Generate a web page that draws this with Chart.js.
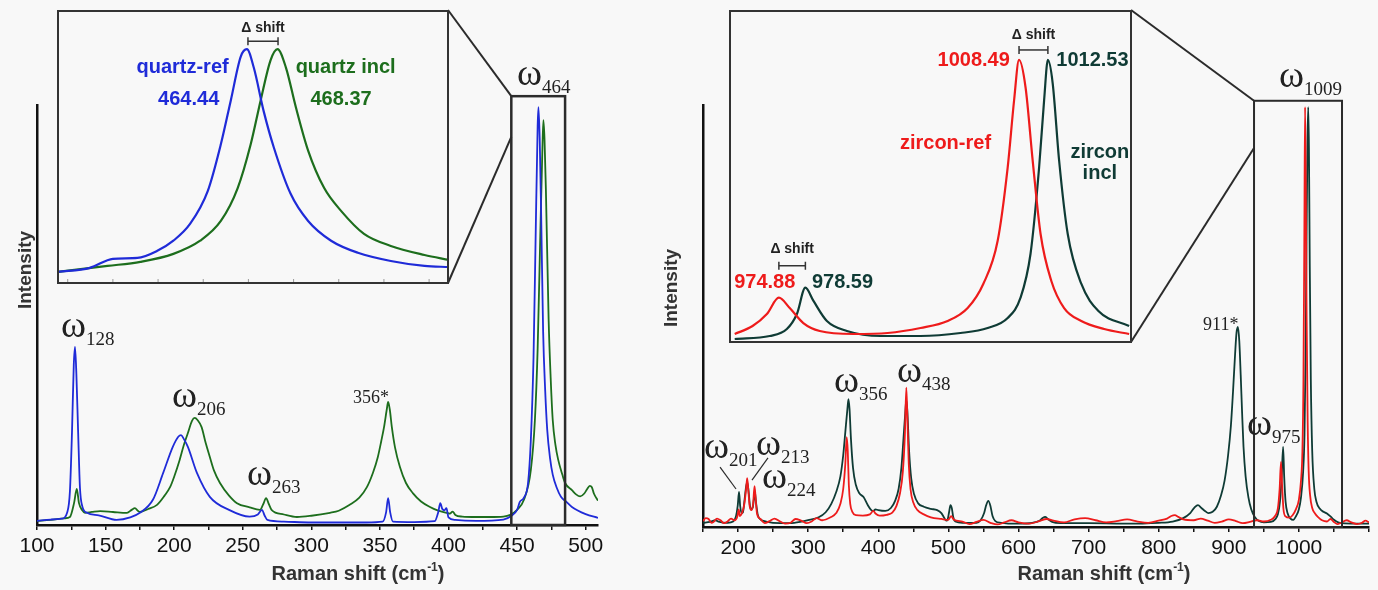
<!DOCTYPE html>
<html>
<head>
<meta charset="utf-8">
<script src="https://cdn.jsdelivr.net/npm/chart.js@4.4.1/dist/chart.umd.min.js"></script>
<style>
    body { margin: 0; background: #f8f8f8; width: 1378px; height: 590px; overflow: hidden; position: relative; }
    canvas { position: absolute; }
</style>
</head>
<body>
<canvas id="qMain" width="650" height="590" style="left:0px;top:0px"></canvas>
<canvas id="zMain" width="728" height="590" style="left:650px;top:0px"></canvas>
<canvas id="qInset" width="392" height="274" style="left:57px;top:10px"></canvas>
<canvas id="zInset" width="403" height="333" style="left:729px;top:10px"></canvas>
<script>
// ---------- data (Raman shift cm-1, intensity a.u.) ----------
const quartzTicks = [100, 125, 150, 175, 200, 225, 250, 275, 300, 325, 350, 375, 400, 425, 450, 475, 500];
const quartzTickLabels = [100, 150, 200, 250, 300, 350, 400, 450, 500];
const zirconTicks = [150, 200, 250, 300, 350, 400, 450, 500, 550, 600, 650, 700, 750, 800, 850, 900, 950, 1000, 1050, 1100];
const zirconTickLabels = [200, 300, 400, 500, 600, 700, 800, 900, 1000];
const quartzInsetTicks = [440.9, 446.8, 452.7, 458.6, 464.5, 470.4, 476.3, 482.2, 488.1];

const quartzRefMain = [
    [100, 1.0], [110, 1.3], [118, 1.5], [122, 3], [124, 8], [125.5, 22], [126.8, 38], [127.7, 42.4], [128.7, 36],
    [130, 22], [131.3, 9], [133, 4.5], [136.4, 2.9], [145, 2.3], [158, 1.2], [168, 1.8], [175, 2.9], [184.5, 6],
    [192, 12.4], [199, 18.6], [203, 21], [205, 21.4], [207, 20.5], [210, 18.6], [216.6, 12.4], [226, 6.7],
    [240, 3.6], [255, 2], [261, 2.5], [264, 3.6], [266, 2.2], [268, 1.2], [280, 0.8], [300, 0.6], [340, 0.6],
    [352, 0.8], [354.5, 3], [356, 6.4], [357.5, 3], [359.5, 0.8], [375, 0.7], [390, 0.9], [392.5, 3], [394, 5.2],
    [395.5, 3.8], [397, 3.5], [398.5, 4], [400, 1.8], [405, 1.2], [420, 1], [440, 1.3], [446, 2.2], [450, 3.6],
    [452, 5.5], [455, 6.5], [458, 10], [460, 20], [462, 40], [463.5, 68], [465, 95], [465.6, 99.5], [466.5, 92],
    [467.5, 75], [469, 46], [470.5, 32], [472, 22.6], [474, 16], [476, 12], [479, 8.8], [482, 6.7], [486, 5.5],
    [490, 4.3], [500, 2.6], [509, 1.7]
];
const quartzInclMain = [
    [100, 1.0], [110, 1.2], [120, 1.6], [124, 1.9], [127, 5.2], [129, 8.6], [130.6, 5.2], [133, 3.5], [135, 2.9],
    [140, 3.1], [146, 3.3], [155.4, 3.1], [165.6, 2.9], [169, 3.6], [171.4, 4], [173.5, 3.4], [175, 3.1], [181, 3.8],
    [187.5, 4.8], [193, 7], [197, 9], [200, 11.5], [204, 15.5], [207, 19], [210, 21.9], [213, 24.8], [215, 25.5],
    [217, 25], [220, 23.3], [223, 19.5], [226, 16.2], [229, 13], [233.4, 10], [240, 7], [245.8, 5.2], [255, 4.2],
    [262.5, 3.6], [265, 5], [267, 6.4], [269, 5], [271, 3.6], [280, 2.5], [289.5, 1.9], [300, 2.2], [313.6, 2.9],
    [320, 3.4], [328, 4.8], [335, 6.5], [340.5, 9], [345, 12.5], [348.5, 16.2], [351, 20], [353, 23.3], [355, 27.5],
    [356, 29.3], [357.2, 27.5], [358.7, 23.3], [361, 18.5], [364.6, 13.8], [369, 10], [374, 7.6], [380, 5.6],
    [386.5, 4.3], [392, 3.5], [398.8, 2.9], [401, 2.7], [403, 3.2], [405, 2.4], [410, 2.0], [420, 1.9], [430, 1.9],
    [440, 2.0], [445, 2.4], [450, 3.6], [455, 6], [460, 13], [463, 25], [465, 42], [467, 70], [468.5, 90],
    [469.2, 96.4], [470, 92], [471, 80], [473, 49], [474.5, 35], [476, 25], [478, 19], [480, 15.5], [483, 12],
    [485, 10], [490, 8.3], [493, 7.3], [496, 6.8], [499, 7.5], [501, 8.5], [503, 9.3], [504.5, 9], [506, 7.5], [509, 5.8]
];
const quartzRefInset = [
    [439.6, 4.4], [443.8, 5.9], [446.8, 9.2], [450, 9.5], [452.6, 12.1], [454.7, 15.8], [456.9, 22], [459.2, 34],
    [460.9, 51], [462.2, 67], [463.5, 83], [464.3, 85.7], [465.2, 79], [466.5, 63], [467.8, 50], [470, 33],
    [472.3, 23], [475.3, 15.8], [478.8, 11.4], [483.1, 8.4], [487.5, 6.6], [490.7, 6.2]
];
const quartzInclInset = [
    [439.6, 4.4], [446.1, 6.6], [450.4, 8.1], [454.7, 11], [458.2, 15.8], [460.9, 23], [463.1, 35], [464.8, 51],
    [466.1, 67], [467.4, 81.7], [468.3, 85.7], [469.4, 79], [470.7, 64.5], [472.3, 48.7], [474.4, 35], [476.6, 26.7],
    [479.6, 18.3], [483.1, 13.9], [487.5, 10.6], [490.7, 8.8]
];

const zirconRefMain = [
    [150, 1.4], [154, 2.1], [158, 1.9], [162, 1.0], [165, 1.2], [170, 2.0], [175, 1.6], [180, 0.9], [185, 1.3],
    [190, 2.0], [195, 1.6], [199, 2.5], [201, 4.2], [202.5, 2.6],
    [206, 3.5], [209, 5.5], [211.5, 9], [213, 11.6], [214.5, 9], [216.5, 5], [219, 4], [221.5, 5.5], [223.5, 9.7],
    [225, 7], [227, 3.2], [232, 1.9], [238, 0.9], [245, 1.4], [252, 2.0], [260, 1.3], [267, 0.8], [275, 1.0],
    [282, 1.9], [290, 1.5], [298, 0.9], [305, 1.3], [312, 2.1], [320, 1.6],
    [332, 2.3], [340, 3.3], [346, 5.5], [350, 9], [353, 15], [355, 21.3], [356.5, 18], [358, 10], [360, 5.5],
    [363, 3.6], [368, 2.8], [378, 2.7], [388, 3], [393, 3.8], [396, 3.2], [402, 2.7], [412, 2.9], [420, 3.4],
    [426, 5], [431, 8], [435, 13], [438, 22], [440, 33], [441.5, 26], [443.5, 15], [446, 9], [450, 5.8], [456, 4],
    [465, 3], [475, 2.3], [490, 1.9], [500, 1.7], [504, 2.6], [508, 1.7], [520, 1.3], [530, 0.7], [540, 1.2],
    [550, 1.7], [560, 1.0], [570, 0.6], [580, 1.1], [590, 1.6], [600, 1.1], [615, 0.8], [630, 1.4], [640, 1.9],
    [650, 1.5], [665, 1.1], [680, 1.8], [695, 2.1], [710, 1.6], [725, 1.1], [740, 1.4], [755, 1.8], [770, 1.3],
    [785, 1.0], [800, 1.5],
    [812, 2.0], [818, 2.6], [823, 2.8], [828, 2.4], [835, 1.8], [850, 1.6], [860, 2.0], [870, 1.5], [880, 1.0],
    [890, 1.3], [900, 1.8], [910, 1.4], [920, 0.9], [930, 1.2], [940, 1.6], [950, 1.3], [960, 1.7], [966, 2.6],
    [970, 4.4], [972.5, 9], [974.5, 15.4], [976, 10], [978, 4.2],
    [981, 2.5], [986, 2.2], [991, 2.8], [996, 4.3], [1000, 6.5], [1003, 11], [1005, 18], [1006.5, 35], [1007.8, 70],
    [1008.8, 99.5], [1009.8, 82], [1011, 50], [1012.5, 25], [1014, 13], [1016, 7.5], [1019, 4.5], [1023, 3.2],
    [1027, 2.4], [1033, 1.6], [1040, 1.3], [1045, 1.9], [1050, 1.2], [1055, 0.7], [1060, 1.0], [1068, 1.6],
    [1075, 1.1], [1083, 0.7], [1090, 1.0], [1095, 1.5], [1100, 1.1]
];
const zirconInclMain = [
    [150, 1.0], [160, 1.2], [168, 1.6], [172, 1.3], [185, 1.0], [193, 1.3], [197, 2.5], [199.5, 5], [201.4, 8.3],
    [203, 5], [205, 3.3], [207, 3.5], [209, 6], [211, 9], [213, 10.7], [215, 8.5], [217, 5], [219, 4.2], [221, 4.6],
    [222.5, 6.5], [224, 8.3], [225.5, 6], [228, 3], [232, 1.8], [240, 1.3], [260, 0.9], [280, 1.0], [300, 1.6],
    [315, 2.3], [325, 3.5], [333, 5.5], [340, 8.3], [346, 12], [350, 17], [353, 22.5], [356, 28], [357.5, 30.3],
    [359, 28], [361, 21], [364, 14], [368, 10], [373, 8], [379, 7.1], [385, 5.2], [390, 4.0], [393, 3.8], [396, 4.2],
    [400, 4], [410, 3.8], [418, 4.5], [424, 6.2], [429, 9], [433, 14], [436, 21], [438.5, 27], [440, 30.1],
    [441.5, 27.5], [444, 18], [447, 11.5], [451, 7.8], [457, 5.6], [465, 4.8], [475, 4.3], [484, 4], [490, 3.3],
    [494, 2.2], [497, 1.5], [499, 1.8], [501, 3.5], [503, 5.2], [505, 4.4], [507, 2.3], [510, 1.3], [520, 1.0],
    [540, 1.0], [546, 1.6], [551, 3.3], [554, 5.2], [557, 6.2], [560, 5.0], [563, 2.6], [567, 1.4], [575, 1.0],
    [600, 0.8], [620, 1.0], [630, 1.5], [635, 2.2], [638, 2.4], [642, 1.9], [648, 1.2], [660, 0.9], [700, 0.9],
    [750, 0.8], [800, 1.0], [820, 1.3], [835, 2.1], [845, 3.3], [851, 4.6], [856, 5.2], [861, 4.5], [866, 3.8],
    [871, 3.3], [877, 3.6], [883, 4.8], [889, 7.5], [894, 11], [899, 17], [903, 24], [906, 32], [909, 41], [911, 46],
    [913, 47.4], [915, 44], [917, 36], [919, 27], [921, 19], [924, 12], [928, 7], [932, 4.2], [937, 2.4], [943, 1.4],
    [950, 1.1], [960, 1.2], [966, 1.8], [970, 3], [973, 6], [975.5, 12], [977.5, 19], [979, 12], [981, 6], [984, 3.2],
    [988, 2.0], [992, 1.7], [996, 2.6], [1000, 4.2], [1003, 7], [1006, 13], [1008, 22], [1009.5, 40], [1011, 70],
    [1012.3, 92], [1013.3, 99.5], [1014.3, 90], [1015.5, 62], [1017, 35], [1019, 18], [1022, 9], [1025, 6],
    [1030, 4.3], [1035, 3.6], [1040, 3.2], [1045, 2.5], [1050, 1.7], [1056, 1.1], [1062, 0.9], [1080, 0.8], [1100, 0.8]
];
const zirconRefInset = [
    [968.7, 2.7], [971.2, 5.1], [973.2, 8.7], [974.88, 13.6], [976.4, 10.5], [978.3, 6], [980.6, 3.6], [985.3, 2.7],
    [990.1, 3], [994.7, 4.5], [998.5, 6.6], [1001.3, 10.5], [1003.5, 17.8], [1005.5, 30.7], [1006.9, 52.7],
    [1007.8, 72.9], [1008.49, 85], [1009.4, 76.8], [1010.4, 54.8], [1011.5, 32.8], [1013, 18.7], [1014.8, 10.5],
    [1017.2, 6.6], [1020.4, 4.2], [1023.9, 2.7]
];
const zirconInclInset = [
    [968.7, 1.2], [973.6, 2.1], [976, 4.2], [977.4, 8.7], [978.59, 16.6], [979.7, 12.7], [981.6, 6.6], [984.4, 3.6],
    [989.1, 2.1], [994.7, 2.1], [1000.3, 3], [1004.1, 4.5], [1006.9, 7.5], [1008.7, 13.6], [1010.1, 26.8],
    [1011.3, 52.7], [1012, 72.9], [1012.53, 85], [1013.2, 78], [1014.1, 54.8], [1015.3, 32.8], [1017.2, 17.8],
    [1019.6, 9.6], [1023.9, 5.1]
];
const quartzShift = [464.44, 468.37];
const zirconShift = [1008.49, 1012.53];
const zirconShift2 = [974.88, 978.59];

// zoomed window shown by each inset
const quartzZoom = [445.8, 485];
const zirconZoom = [936, 1061.5];

const BG = '#f8f8f8';
const BLUE = '#1f2bd8';
const GREEN = '#1d6e1d';
const RED = '#ee1b1b';
const DARK = '#0f3b35';
const INK = '#2b2b2b';

function pts(arr) {
    return arr.map(p => ({x: p[0], y: p[1]}));
}

function line(data, color, width) {
    return {
        data: pts(data),
        borderColor: color,
        borderWidth: width,
        pointRadius: 0,
        fill: false,
        cubicInterpolationMode: 'monotone'
    };
}

const bgPlugin = {
    id: 'bg',
    beforeDraw(chart) {
        const ctx = chart.ctx;
        ctx.save();
        ctx.fillStyle = BG;
        ctx.fillRect(0, 0, chart.width, chart.height);
        ctx.restore();
    }
};

function omega(ctx, px, py, sub) {
    ctx.font = '38px "Liberation Serif"';
    ctx.textAlign = 'left';
    ctx.textBaseline = 'alphabetic';
    ctx.fillStyle = '#222';
    ctx.fillText('ω', px, py);
    let w = ctx.measureText('ω').width;
    ctx.font = '19px "Liberation Serif"';
    ctx.fillText(sub, px + w, py + 8);
}

function xTitle(ctx, cx, baseY) {
    const a = 'Raman shift (cm', b = '-1', c = ')';
    ctx.fillStyle = '#333';
    ctx.textBaseline = 'alphabetic';
    ctx.textAlign = 'left';
    ctx.font = 'bold 20px "Liberation Sans"';
    let wa = ctx.measureText(a).width, wc = ctx.measureText(c).width;
    ctx.font = 'bold 12px "Liberation Sans"';
    let wb = ctx.measureText(b).width;
    let x = cx - (wa + wb + wc) / 2;
    ctx.font = 'bold 20px "Liberation Sans"';
    ctx.fillText(a, x, baseY);
    ctx.font = 'bold 12px "Liberation Sans"';
    ctx.fillText(b, x + wa, baseY - 9);
    ctx.font = 'bold 20px "Liberation Sans"';
    ctx.fillText(c, x + wa + wb, baseY);
}

function yTitle(ctx, cx, cy) {
    ctx.save();
    ctx.translate(cx, cy);
    ctx.rotate(-Math.PI / 2);
    ctx.fillStyle = '#333';
    ctx.font = 'bold 19px "Liberation Sans"';
    ctx.textAlign = 'center';
    ctx.textBaseline = 'middle';
    ctx.fillText('Intensity', 0, 0);
    ctx.restore();
}

function seg(ctx, x1, y1, x2, y2) {
    ctx.beginPath();
    ctx.moveTo(x1, y1);
    ctx.lineTo(x2, y2);
    ctx.stroke();
}

function shiftMark(ctx, xs, ys, pair, yv, textY) {
    let a = xs.getPixelForValue(pair[0]), b = xs.getPixelForValue(pair[1]), y = ys.getPixelForValue(yv);
    ctx.strokeStyle = '#333';
    ctx.lineWidth = 1.5;
    seg(ctx, a, y, b, y);
    seg(ctx, a, y - 4, a, y + 4);
    seg(ctx, b, y - 4, b, y + 4);
    ctx.fillStyle = '#222';
    ctx.font = 'bold 14px "Liberation Sans"';
    ctx.textAlign = 'center';
    ctx.textBaseline = 'middle';
    ctx.fillText('Δ shift', (a + b) / 2, ys.getPixelForValue(textY));
}

function insetText(ctx, xs, ys, txt, x, y, color, align) {
    ctx.fillStyle = color;
    ctx.font = 'bold 20px "Liberation Sans"';
    ctx.textAlign = align || 'center';
    ctx.textBaseline = 'middle';
    ctx.fillText(txt, xs.getPixelForValue(x), ys.getPixelForValue(y));
}

function mainChart(id, datasets, ticks, tickLabels, xr, padding, yWidth, xHeight, draw) {
    let ctx = document.getElementById(id).getContext('2d');
    return new Chart(ctx, {
        type: 'line',
        data: {datasets: datasets},
        options: {
            responsive: false,
            animation: false,
            events: [],
            layout: {padding: padding},
            plugins: {legend: {display: false}, tooltip: {enabled: false}},
            scales: {
                x: {
                    type: 'linear', min: xr[0], max: xr[1],
                    afterBuildTicks: (s) => { s.ticks = ticks.map(v => ({value: v})); },
                    afterFit: (s) => { s.height = xHeight; },
                    ticks: {
                        autoSkip: false, maxRotation: 0, padding: 4, color: '#111',
                        font: {family: 'Liberation Sans', size: 21},
                        callback: (v) => tickLabels.includes(v) ? String(v) : ''
                    },
                    grid: {drawOnChartArea: false, tickLength: 5, color: '#111', lineWidth: 1.5},
                    border: {color: '#111', width: 2.5}
                },
                y: {
                    min: 0, max: 100,
                    afterFit: (s) => { s.width = yWidth; },
                    ticks: {display: false},
                    grid: {drawOnChartArea: false, drawTicks: false},
                    border: {color: '#111', width: 2.5}
                }
            }
        },
        plugins: [bgPlugin, {id: 'notes', afterDraw: draw}]
    });
}

function insetChart(id, datasets, xr, tickVals) {
    let ctx = document.getElementById(id).getContext('2d');
    return new Chart(ctx, {
        type: 'line',
        data: {datasets: datasets},
        options: {
            responsive: false,
            animation: false,
            events: [],
            layout: {padding: 0},
            plugins: {legend: {display: false}, tooltip: {enabled: false}},
            scales: {
                x: {type: 'linear', display: false, min: xr[0], max: xr[1]},
                y: {display: false, min: 0, max: 100}
            }
        },
        plugins: [bgPlugin, {
            id: 'box',
            afterDraw(chart) {
                const c = chart.ctx, xs = chart.scales.x;
                c.save();
                c.strokeStyle = '#9a9a9a';
                c.lineWidth = 1;
                tickVals.forEach(v => {
                    let p = xs.getPixelForValue(v);
                    seg(c, p, chart.height - 2, p, chart.height - 5);
                });
                c.strokeStyle = '#333';
                c.lineWidth = 2;
                c.strokeRect(1, 1, chart.width - 2, chart.height - 2);
                chart.$notes && chart.$notes(c, xs, chart.scales.y);
                c.restore();
            }
        }]
    });
}

// ---------- quartz (left) ----------
mainChart('qMain',
    [line(quartzRefMain, BLUE, 1.8), line(quartzInclMain, GREEN, 1.8)],
    quartzTicks, quartzTickLabels, [100, 509],
    {left: 0, right: 52, top: 105, bottom: 0}, 37, 65,
    function (chart) {
        const ctx = chart.ctx, xs = chart.scales.x, ys = chart.scales.y;
        ctx.save();
        let x0 = xs.getPixelForValue(quartzZoom[0]), x1 = xs.getPixelForValue(quartzZoom[1]);
        let yt = ys.getPixelForValue(102.1), yb = ys.getPixelForValue(0);
        ctx.strokeStyle = INK;
        ctx.lineWidth = 2.5;
        ctx.strokeRect(x0, yt, x1 - x0, yb - yt);
        ctx.lineWidth = 2;
        seg(ctx, 448, 10, x0, yt);
        seg(ctx, 448, 283, x0, ys.getPixelForValue(92.4));
        omega(ctx, xs.getPixelForValue(117.5), ys.getPixelForValue(44.8), '128');
        omega(ctx, xs.getPixelForValue(198.4), ys.getPixelForValue(28.1), '206');
        omega(ctx, xs.getPixelForValue(253.1), ys.getPixelForValue(9.5), '263');
        omega(ctx, xs.getPixelForValue(449.9), ys.getPixelForValue(104.8), '464');
        ctx.font = '18px "Liberation Serif"';
        ctx.fillStyle = '#222';
        ctx.fillText('356*', xs.getPixelForValue(330.3), ys.getPixelForValue(29.0));
        xTitle(ctx, 358, 580);
        yTitle(ctx, 26, 270);
        ctx.restore();
    });

let qi = insetChart('qInset',
    [line(quartzRefInset, BLUE, 2.2), line(quartzInclInset, GREEN, 2.2)],
    [439.5, 490.7], quartzInsetTicks);
qi.$notes = function (ctx, xs, ys) {
    shiftMark(ctx, xs, ys, quartzShift, 88.6, 93.5);
    insetText(ctx, xs, ys, 'quartz-ref', 455.9, 79.1, BLUE);
    insetText(ctx, xs, ys, quartzShift[0].toFixed(2), 456.7, 67.4, BLUE);
    insetText(ctx, xs, ys, 'quartz incl', 477.2, 79.1, GREEN);
    insetText(ctx, xs, ys, quartzShift[1].toFixed(2), 476.6, 67.4, GREEN);
};
qi.draw();

// ---------- zircon (right) ----------
mainChart('zMain',
    [line(zirconRefMain, RED, 1.8), line(zirconInclMain, DARK, 1.8)],
    zirconTicks, zirconTickLabels, [150, 1100],
    {left: 0, right: 9, top: 105, bottom: 0}, 53, 63,
    function (chart) {
        const ctx = chart.ctx, xs = chart.scales.x, ys = chart.scales.y;
        ctx.save();
        let x0 = xs.getPixelForValue(zirconZoom[0]), x1 = xs.getPixelForValue(zirconZoom[1]);
        let yt = ys.getPixelForValue(101), yb = ys.getPixelForValue(0);
        ctx.strokeStyle = INK;
        ctx.lineWidth = 2;
        ctx.strokeRect(x0, yt, x1 - x0, yb - yt);
        seg(ctx, 1131 - 650, 10, x0, yt);
        seg(ctx, 1131 - 650, 342, x0, ys.getPixelForValue(89.8));
        ctx.lineWidth = 1.2;
        seg(ctx, xs.getPixelForValue(174.3), ys.getPixelForValue(14.2), xs.getPixelForValue(197.1), ys.getPixelForValue(9.0));
        seg(ctx, xs.getPixelForValue(242.7), ys.getPixelForValue(16.4), xs.getPixelForValue(219.9), ys.getPixelForValue(11.1));
        omega(ctx, xs.getPixelForValue(151.5), ys.getPixelForValue(16.4), '201');
        omega(ctx, xs.getPixelForValue(225.6), ys.getPixelForValue(17.1), '213');
        omega(ctx, xs.getPixelForValue(234.2), ys.getPixelForValue(9.2), '224');
        omega(ctx, xs.getPixelForValue(336.9), ys.getPixelForValue(32), '356');
        omega(ctx, xs.getPixelForValue(426.8), ys.getPixelForValue(34.4), '438');
        omega(ctx, xs.getPixelForValue(926.1), ys.getPixelForValue(21.8), '975');
        omega(ctx, xs.getPixelForValue(971.7), ys.getPixelForValue(104.3), '1009');
        ctx.font = '18px "Liberation Serif"';
        ctx.fillStyle = '#222';
        ctx.fillText('911*', xs.getPixelForValue(863.3), ys.getPixelForValue(46.7));
        xTitle(ctx, 1104 - 650, 580);
        yTitle(ctx, 22, 288);
        ctx.restore();
    });

let zi = insetChart('zInset',
    [line(zirconRefInset, RED, 2.2), line(zirconInclInset, DARK, 2.2)],
    [967.9, 1024.3], []);
zi.$notes = function (ctx, xs, ys) {
    shiftMark(ctx, xs, ys, zirconShift, 88, 92.5);
    shiftMark(ctx, xs, ys, zirconShift2, 23.2, 28.3);
    insetText(ctx, xs, ys, zirconShift[0].toFixed(2), 1007.2, 84.9, RED, 'right');
    insetText(ctx, xs, ys, zirconShift[1].toFixed(2), 1013.7, 84.9, DARK, 'left');
    insetText(ctx, xs, ys, 'zircon-ref', 998.2, 59.9, RED);
    insetText(ctx, xs, ys, 'zircon', 1019.8, 57.2, DARK);
    insetText(ctx, xs, ys, 'incl', 1019.8, 50.9, DARK);
    insetText(ctx, xs, ys, zirconShift2[0].toFixed(2), 972.9, 18.1, RED);
    insetText(ctx, xs, ys, zirconShift2[1].toFixed(2), 979.5, 18.1, DARK, 'left');
};
zi.draw();
</script>
</body>
</html>
